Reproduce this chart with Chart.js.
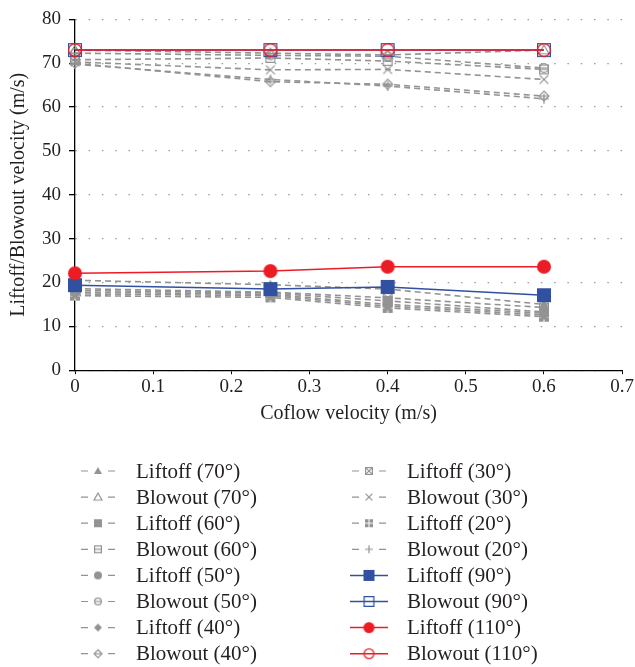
<!DOCTYPE html>
<html>
<head>
<meta charset="utf-8">
<script src="https://cdn.jsdelivr.net/npm/chart.js@4.4.1/dist/chart.umd.min.js"></script>
<style>
  html, body { margin: 0; padding: 0; background: #fff; }
  #wrap { width: 635px; height: 667px; position: relative; }
</style>
</head>
<body>
<div id="wrap"><canvas id="chart"></canvas></div>
<script>
// coflow velocities (m/s)
const categories = [0, 0.25, 0.4, 0.6];

// liftoff velocities (m/s)
const liftoff70 = [20.5, 19.5, 18.5, 15.0];
const liftoff60 = [18.2, 17.6, 15.8, 13.3];
const liftoff50 = [17.8, 17.3, 15.0, 13.0];
const liftoff40 = [17.4, 17.0, 14.6, 12.6];
const liftoff30 = [18.6, 17.8, 16.5, 14.3];
const liftoff20 = [17.0, 16.6, 14.2, 12.2];
const liftoff90 = [19.4, 18.5, 19.0, 17.1];
const liftoff110 = [22.1, 22.6, 23.6, 23.6];

// blowout velocities (m/s)
const blowout70 = [73.0, 72.3, 71.9, 73.0];
const blowout60 = [70.8, 71.2, 70.5, 68.6];
const blowout50 = [72.3, 71.8, 71.6, 68.9];
const blowout40 = [70.0, 65.8, 65.2, 62.5];
const blowout30 = [70.3, 68.5, 68.6, 66.3];
const blowout20 = [69.8, 66.3, 64.8, 61.9];
const blowout90 = [73.0, 73.0, 73.0, 73.0];
const blowout110 = [73.0, 73.0, 73.0, 73.0];

const xTickLabels = ['0', '0.1', '0.2', '0.3', '0.4', '0.5', '0.6', '0.7'];
const yTickLabels = ['0', '10', '20', '30', '40', '50', '60', '70', '80'];

const GRAY = '#939393';
const BLUE = '#3150a2';
const RED = '#ec1c24';
const FONT = "'Liberation Serif', 'DejaVu Serif', serif";

// small canvases used as point styles
function makeMarker(kind, color, size) {
  const pad = 2, s = size + pad * 2;
  const c = document.createElement('canvas');
  c.width = s; c.height = s;
  const g = c.getContext('2d');
  const m = s / 2, r = size / 2;
  g.strokeStyle = color;
  g.fillStyle = color;
  g.lineWidth = 1.2;
  const ri = r - 0.6;
  g.beginPath();
  if (kind.startsWith('tri')) {
    g.moveTo(m, m - r); g.lineTo(m + r, m + r * 0.75); g.lineTo(m - r, m + r * 0.75); g.closePath();
  } else if (kind.startsWith('sq')) {
    if (kind === 'sq' || kind === 'sqPlus') g.rect(m - r, m - r, size, size);
    else g.rect(m - ri, m - ri, ri * 2, ri * 2);
  } else if (kind.startsWith('circ')) {
    g.arc(m, m, kind === 'circ' ? r : ri, 0, Math.PI * 2);
  } else if (kind.startsWith('dia')) {
    g.moveTo(m, m - r); g.lineTo(m + r, m); g.lineTo(m, m + r); g.lineTo(m - r, m); g.closePath();
  }
  const filled = ['tri', 'sq', 'sqPlus', 'circ', 'dia'].includes(kind);
  if (filled) g.fill(); else if (kind !== 'x' && kind !== 'plus') g.stroke();

  g.beginPath();
  if (kind === 'sqLine' || kind === 'circLine' || kind === 'diaLine') {
    g.moveTo(m - ri, m); g.lineTo(m + ri, m);
  } else if (kind === 'sqX' || kind === 'x') {
    g.moveTo(m - ri, m - ri); g.lineTo(m + ri, m + ri);
    g.moveTo(m + ri, m - ri); g.lineTo(m - ri, m + ri);
  } else if (kind === 'plus') {
    g.moveTo(m - r, m); g.lineTo(m + r, m);
    g.moveTo(m, m - r); g.lineTo(m, m + r);
  }
  g.stroke();
  if (kind === 'sqPlus') {
    g.strokeStyle = '#fff';
    g.lineWidth = 1;
    g.beginPath();
    g.moveTo(m - r, m); g.lineTo(m + r, m);
    g.moveTo(m, m - r); g.lineTo(m, m + r);
    g.stroke();
  }
  return c;
}

// legend order (column-major)
const series = [
  { label: 'Liftoff (70°)', data: liftoff70, kind: 'tri', color: GRAY, dashed: true },
  { label: 'Blowout (70°)', data: blowout70, kind: 'triOpen', color: GRAY, dashed: true },
  { label: 'Liftoff (60°)', data: liftoff60, kind: 'sq', color: GRAY, dashed: true },
  { label: 'Blowout (60°)', data: blowout60, kind: 'sqLine', color: GRAY, dashed: true },
  { label: 'Liftoff (50°)', data: liftoff50, kind: 'circ', color: GRAY, dashed: true },
  { label: 'Blowout (50°)', data: blowout50, kind: 'circLine', color: GRAY, dashed: true },
  { label: 'Liftoff (40°)', data: liftoff40, kind: 'dia', color: GRAY, dashed: true },
  { label: 'Blowout (40°)', data: blowout40, kind: 'diaLine', color: GRAY, dashed: true },
  { label: 'Liftoff (30°)', data: liftoff30, kind: 'sqX', color: GRAY, dashed: true },
  { label: 'Blowout (30°)', data: blowout30, kind: 'x', color: GRAY, dashed: true },
  { label: 'Liftoff (20°)', data: liftoff20, kind: 'sqPlus', color: GRAY, dashed: true },
  { label: 'Blowout (20°)', data: blowout20, kind: 'plus', color: GRAY, dashed: true },
  { label: 'Liftoff (90°)', data: liftoff90, kind: 'sq', color: BLUE, dashed: false },
  { label: 'Blowout (90°)', data: blowout90, kind: 'sqOpen', color: BLUE, dashed: false },
  { label: 'Liftoff (110°)', data: liftoff110, kind: 'circ', color: RED, dashed: false },
  { label: 'Blowout (110°)', data: blowout110, kind: 'circOpen', color: RED, dashed: false },
];

series.forEach(s => {
  const big = !s.dashed;
  s.marker = makeMarker(s.kind, s.color, big ? 14 : 10);
  s.legendMarker = makeMarker(s.kind, s.color, big ? 11 : 8);
});

// first dataset is painted on top: red, blue, then the gray ones
const drawOrder = [14, 15, 12, 13, 0, 1, 2, 3, 4, 5, 6, 7, 8, 9, 10, 11];
const datasets = drawOrder.map(i => {
  const s = series[i];
  return {
    label: s.label,
    data: categories.map((x, j) => ({ x: x, y: s.data[j] })),
    borderColor: s.color,
    backgroundColor: s.color,
    borderWidth: s.dashed ? 1.6 : 1.5,
    borderDash: s.dashed ? [6, 4] : [],
    pointStyle: s.marker,
    pointRadius: 5,
    pointHoverRadius: 5,
    tension: 0,
    clip: false,
  };
});

const columnLegend = {
  id: 'columnLegend',
  afterDraw(chart) {
    const ctx = chart.ctx;
    ctx.save();
    ctx.font = '21px ' + FONT;
    ctx.fillStyle = '#231f20';
    ctx.textBaseline = 'middle';
    series.forEach((s, i) => {
      const col = Math.floor(i / 8), row = i % 8;
      const cx = col ? 369 : 98;
      const cy = 471 + row * 26.1;
      ctx.strokeStyle = s.color;
      ctx.lineWidth = s.dashed ? 1.2 : 1.5;
      ctx.beginPath();
      if (s.dashed) {
        ctx.moveTo(cx - 17, cy); ctx.lineTo(cx - 10, cy);
        ctx.moveTo(cx + 10, cy); ctx.lineTo(cx + 17, cy);
      } else {
        ctx.moveTo(cx - 19, cy); ctx.lineTo(cx + 19, cy);
      }
      ctx.stroke();
      const mk = s.legendMarker;
      ctx.drawImage(mk, cx - mk.width / 2, cy - mk.height / 2);
      ctx.fillText(s.label, cx + 38, cy + 1);
    });
    ctx.restore();
  }
};

new Chart(document.getElementById('chart'), {
  type: 'line',
  data: { datasets },
  options: {
    responsive: true,
    maintainAspectRatio: false,
    animation: false,
    layout: { padding: { top: 5, right: 12, bottom: 237, left: 3 } },
    plugins: {
      legend: { display: false },
      tooltip: { enabled: false },
    },
    scales: {
      x: {
        type: 'linear',
        min: 0,
        max: 0.7,
        grid: { drawOnChartArea: false, drawTicks: true, tickLength: 4, tickColor: '#000' },
        border: { color: '#000', width: 1.3 },
        ticks: {
          stepSize: 0.1,
          color: '#231f20',
          font: { family: FONT, size: 19 },
          padding: 1,
          maxRotation: 0,
          callback: (v, i) => xTickLabels[i],
        },
        title: {
          display: true,
          text: 'Coflow velocity (m/s)',
          color: '#231f20',
          font: { family: FONT, size: 20 },
          padding: { top: 3 },
        },
      },
      y: {
        min: 0,
        max: 80,
        grid: { color: '#9a9a9a', lineWidth: 1.3, drawTicks: true, tickLength: 6, tickColor: '#000' },
        border: { color: '#000', width: 1.3, dash: [1.5, 11.8] },
        ticks: {
          stepSize: 10,
          color: '#231f20',
          font: { family: FONT, size: 19 },
          padding: 8,
          callback: (v, i) => yTickLabels[i],
        },
        title: {
          display: true,
          text: 'Liftoff/Blowout velocity (m/s)',
          color: '#231f20',
          font: { family: FONT, size: 20 },
          padding: { bottom: 3 },
        },
      },
    },
  },
  plugins: [columnLegend],
});
</script>
</body>
</html>
